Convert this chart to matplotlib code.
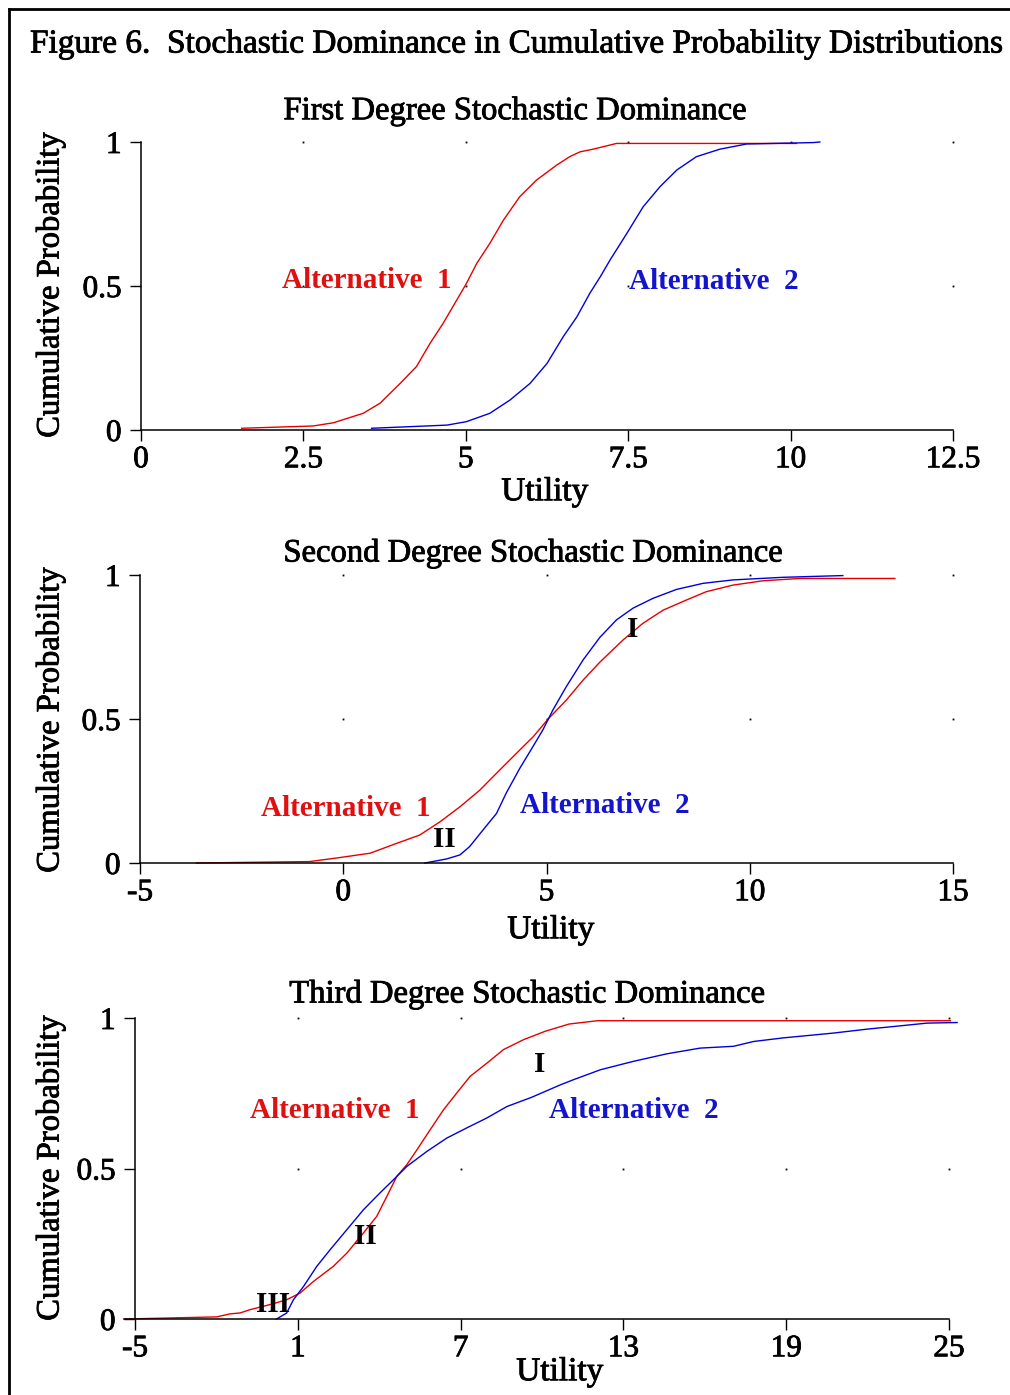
import matplotlib
matplotlib.use("Agg")
from matplotlib import pyplot as plt
from matplotlib.lines import Line2D
import matplotlib.patheffects as pe

plt.rcParams['font.family'] = ['Liberation Serif', 'DejaVu Serif']

# panel 1 - first degree
fd_alt1_x = [1.55, 2.65, 2.96, 3.42, 3.68, 3.99, 4.24, 4.45, 4.65, 4.86, 5.01, 5.17, 5.37, 5.58,
             5.83, 6.09, 6.40, 6.60, 6.76, 6.96, 7.32, 8.5, 10.09]
fd_alt1_y = [0.006, 0.014, 0.025, 0.058, 0.093, 0.162, 0.220, 0.301, 0.370, 0.451, 0.509, 0.579, 0.648, 0.729,
             0.810, 0.868, 0.920, 0.949, 0.966, 0.975, 0.995, 0.995, 0.995]
fd_alt2_x = [3.55, 4.71, 5.01, 5.37, 5.68, 5.99, 6.25, 6.50, 6.71, 6.91, 7.07, 7.22, 7.48, 7.73,
             7.99, 8.25, 8.55, 8.91, 9.32, 10.35, 10.45]
fd_alt2_y = [0.006, 0.017, 0.029, 0.058, 0.104, 0.162, 0.231, 0.324, 0.393, 0.475, 0.532, 0.590, 0.683, 0.775,
             0.845, 0.903, 0.949, 0.975, 0.993, 0.998, 1.0]

# panel 2 - second degree
sd_alt1_x = [-3.61, -0.82, -0.08, 0.66, 1.31, 1.88, 2.38, 2.87, 3.36, 3.85, 4.34, 4.67, 5.04, 5.49,
             5.90, 6.31, 6.88, 7.37, 7.87, 8.44, 8.93, 9.59, 10.33, 11.23, 13.57]
sd_alt1_y = [0.0, 0.005, 0.019, 0.034, 0.068, 0.097, 0.143, 0.195, 0.253, 0.323, 0.392, 0.438, 0.500, 0.566,
             0.635, 0.697, 0.774, 0.832, 0.878, 0.913, 0.942, 0.965, 0.980, 0.988, 0.988]
sd_alt2_x = [2.01, 2.54, 2.87, 3.11, 3.44, 3.77, 4.01, 4.34, 4.67, 4.91, 5.16, 5.49, 5.90, 6.31,
             6.72, 7.13, 7.62, 8.20, 8.85, 9.59, 10.82, 12.29]
sd_alt2_y = [0.0, 0.014, 0.028, 0.057, 0.115, 0.172, 0.243, 0.328, 0.405, 0.462, 0.532, 0.613, 0.705, 0.783,
             0.844, 0.885, 0.919, 0.950, 0.971, 0.983, 0.992, 0.998]

# panel 3 - third degree
td_alt1_x = [-5.37, -1.99, -1.50, -1.13, -0.76, -0.02, 0.59, 1.08, 1.58, 2.31, 2.81, 3.42, 3.91, 4.28,
             4.65, 5.02, 5.39, 5.88, 6.37, 6.86, 7.35, 7.97, 8.58, 9.32, 10.12, 11.0, 12.05, 25.05]
td_alt1_y = [0.0, 0.007, 0.017, 0.020, 0.031, 0.048, 0.064, 0.086, 0.125, 0.175, 0.219, 0.286, 0.341, 0.407,
             0.474, 0.513, 0.562, 0.629, 0.695, 0.751, 0.806, 0.850, 0.895, 0.928, 0.956, 0.980, 0.991, 0.991]
td_alt2_x = [0.22, 0.59, 0.84, 1.21, 1.70, 2.19, 2.81, 3.42, 4.03, 4.53, 5.02, 5.76, 6.49, 7.23,
             7.97, 8.71, 9.63, 10.68, 11.16, 12.15, 13.37, 14.60, 15.83, 17.06, 17.80, 18.90, 20.75,
             21.98, 23.21, 24.19, 25.30]
td_alt2_y = [0.0, 0.020, 0.064, 0.108, 0.175, 0.230, 0.297, 0.363, 0.419, 0.463, 0.507, 0.557, 0.601, 0.635,
             0.668, 0.706, 0.737, 0.778, 0.795, 0.828, 0.856, 0.881, 0.900, 0.906, 0.922, 0.934, 0.950,
             0.963, 0.974, 0.983, 0.985]

yticks = [0, 0.5, 1]
yticklabels = ['0', '0.5', '1']
fd_xticks = [0, 2.5, 5, 7.5, 10, 12.5]
fd_xlabels = ['0', '2.5', '5', '7.5', '10', '12.5']
sd_xticks = [-5, 0, 5, 10, 15]
sd_xlabels = ['-5', '0', '5', '10', '15']
td_xticks = [-5, 1, 7, 13, 19, 25]
td_xlabels = ['-5', '1', '7', '13', '19', '25']

RED = '#e60000'
BLUE = '#0000dc'
TRED = '#e01010'
TBLUE = '#1414cc'

# thicken the regular text a little, the scan looks heavier
heavy = [pe.withStroke(linewidth=0.6, foreground='black')]

W, H = 1010, 1395
fig = plt.figure(figsize=(W / 100, H / 100), dpi=100)

def px_axes(left, right, top, bottom):
    return fig.add_axes([left / W, 1 - bottom / H, (right - left) / W, (bottom - top) / H])

def style(ax, xticks, xlabels, xlim, spine_x):
    ax.set_xlim(*xlim)
    ax.set_ylim(0, 1)
    for s in ['top', 'right']:
        ax.spines[s].set_visible(False)
    ax.spines['left'].set_position(('data', spine_x))
    ax.spines['bottom'].set_bounds(xlim[0], xticks[-1])
    for s in ['left', 'bottom']:
        ax.spines[s].set_linewidth(1.1)
    ax.set_xticks(xticks)
    ax.set_xticklabels(xlabels)
    ax.set_yticks(yticks)
    ax.set_yticklabels(yticklabels)
    ax.tick_params(length=8, width=1.0, labelsize=22.5, direction='out')
    ax.tick_params(axis='x', pad=3)
    ax.tick_params(axis='y', pad=6)
    for t in ax.get_xticklabels() + ax.get_yticklabels():
        t.set_path_effects(heavy)
    # little dots at the grid crossings
    for xt in xticks[1:]:
        for yt in yticks[1:]:
            ax.plot([xt], [yt], marker='s', ms=1.3, color='black', mew=0, clip_on=False)
    ax.patch.set_alpha(0)

def curve(ax, x, y, c):
    ax.plot(x, y, color=c, lw=1.0, clip_on=False)

lab = dict(fontsize=21, fontweight='bold')

# ---- panel 1
ax1 = px_axes(141, 953, 142, 430)
style(ax1, fd_xticks, fd_xlabels, (0, 12.5), 0)
curve(ax1, fd_alt1_x, fd_alt1_y, RED)
curve(ax1, fd_alt2_x, fd_alt2_y, BLUE)
ax1.text(3.48, 0.52, 'Alternative  1', color=TRED, ha='center', va='center', **lab)
ax1.text(8.82, 0.514, 'Alternative  2', color=TBLUE, ha='center', va='center', **lab)

# ---- panel 2
ax2 = px_axes(140, 953, 575, 863)
style(ax2, sd_xticks, sd_xlabels, (-5, 15), -5)
curve(ax2, sd_alt1_x, sd_alt1_y, RED)
curve(ax2, sd_alt2_x, sd_alt2_y, BLUE)
ax2.text(0.07, 0.19, 'Alternative  1', color=TRED, ha='center', va='center', **lab)
ax2.text(6.43, 0.198, 'Alternative  2', color=TBLUE, ha='center', va='center', **lab)
ax2.text(2.50, 0.08, 'II', color='black', ha='center', va='center', **lab)
ax2.text(7.12, 0.81, 'I', color='black', ha='center', va='center', **lab)

# ---- panel 3
x0, x1 = -5.4, 25.3
ppu = (949 - 135) / 30.0
ax3 = px_axes(135 + (x0 + 5) * ppu, 949 + (x1 - 25) * ppu, 1018, 1319)
style(ax3, td_xticks, td_xlabels, (x0, x1), -5)
curve(ax3, td_alt1_x, td_alt1_y, RED)
curve(ax3, td_alt2_x, td_alt2_y, BLUE)
ax3.text(2.37, 0.692, 'Alternative  1', color=TRED, ha='center', va='center', **lab)
ax3.text(13.40, 0.692, 'Alternative  2', color=TBLUE, ha='center', va='center', **lab)
ax3.text(9.93, 0.845, 'I', color='black', ha='center', va='center', **lab)
ax3.text(3.48, 0.273, 'II', color='black', ha='center', va='center', **lab)
ax3.text(0.09, 0.048, 'III', color='black', ha='center', va='center', **lab)

# titles and axis labels, placed in pixels
def ftext(x, y, s, **kw):
    fig.text(x / W, 1 - y / H, s, path_effects=heavy, **kw)

ftext(30, 44, 'Figure 6.  Stochastic Dominance in Cumulative Probability Distributions',
      fontsize=24, ha='left', va='center')
ftext(515, 111, 'First Degree Stochastic Dominance', fontsize=23.5, ha='center', va='center')
ftext(533, 553, 'Second Degree Stochastic Dominance', fontsize=23.5, ha='center', va='center')
ftext(527, 994, 'Third Degree Stochastic Dominance', fontsize=23.5, ha='center', va='center')
for yc in [285, 720, 1168]:
    ftext(50, yc, 'Cumulative Probability', fontsize=23.5, rotation=90, ha='center', va='center')
ftext(545, 492, 'Utility', fontsize=24, ha='center', va='center')
ftext(551, 930, 'Utility', fontsize=24, ha='center', va='center')
ftext(560, 1372, 'Utility', fontsize=24, ha='center', va='center')

# frame around the figure (left and top edges visible)
fig.add_artist(Line2D([9 / W, 9 / W], [0, 1 - 9 / H], color='black', lw=2, transform=fig.transFigure))
fig.add_artist(Line2D([9 / W, 1], [1 - 9 / H, 1 - 9 / H], color='black', lw=2, transform=fig.transFigure))

fig.savefig('out.png', dpi=100)
